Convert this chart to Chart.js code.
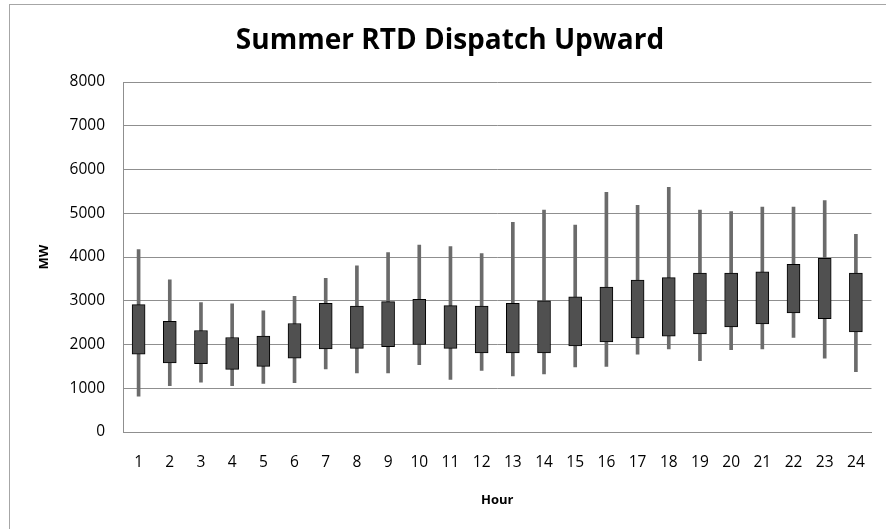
<!DOCTYPE html>
<html>
<head>
<meta charset="utf-8">
<script src="https://cdn.jsdelivr.net/npm/chart.js@4.4.1/dist/chart.umd.min.js"></script>
<style>
  html, body { margin: 0; padding: 0; background: #fff; }
  #frame { position: absolute; left: 9px; top: 4px; width: 900px; height: 600px;
           border-left: 1px solid #a6a6a6; border-top: 1px solid #a6a6a6; }
  #c { position: absolute; left: 0; top: 0; }
</style>
</head>
<body>
<div id="frame"></div>
<canvas id="c" width="886" height="529"></canvas>
<script>
const hours = ['1','2','3','4','5','6','7','8','9','10','11','12','13','14','15','16','17','18','19','20','21','22','23','24'];
const whiskerLow  = [820,1060,1140,1060,1110,1130,1440,1350,1350,1540,1200,1410,1280,1330,1490,1500,1780,1900,1630,1880,1900,2160,1690,1380];
const whiskerHigh = [4170,3480,2960,2930,2770,3100,3510,3800,4100,4270,4240,4080,4790,5070,4730,5480,5180,5590,5070,5040,5140,5140,5290,4520];
const boxLow      = [1780,1580,1560,1430,1500,1690,1900,1910,1950,2000,1910,1810,1810,1810,1970,2060,2150,2190,2240,2400,2470,2720,2590,2290];
const boxHigh     = [2910,2530,2320,2160,2190,2480,2940,2880,2980,3030,2890,2880,2940,3000,3090,3310,3470,3530,3630,3630,3660,3830,3970,3630];
const yTicks = [0,1000,2000,3000,4000,5000,6000,7000,8000];

const whiskers = hours.map((h, i) => [whiskerLow[i], whiskerHigh[i]]);
const boxes = hours.map((h, i) => [boxLow[i], boxHigh[i]]);

const tickFont = { family: "'Open Sans', sans-serif", size: 15.5 };
const gridColor = '#8f8f8f';

new Chart(document.getElementById('c'), {
  type: 'bar',
  data: {
    labels: hours,
    datasets: [
      { label: 'Range', data: whiskers, grouped: false, order: 1,
        barThickness: 3, backgroundColor: '#6b6b6b', borderWidth: 0 },
      { label: 'Box', data: boxes, grouped: false, order: 0,
        barThickness: 13, backgroundColor: '#505050', borderColor: '#000',
        borderWidth: 1, borderSkipped: false }
    ]
  },
  options: {
    responsive: false,
    animation: false,
    layout: { padding: { left: 26, right: 12, top: 0, bottom: 0 } },
    plugins: {
      legend: { display: false },
      tooltip: { enabled: false },
      title: {
        display: true,
        text: 'Summer RTD Dispatch Upward',
        color: '#000',
        font: { family: "'Open Sans', sans-serif", size: 28, weight: 'bold' },
        padding: { top: 24, bottom: 24.4 }
      }
    },
    scales: {
      x: {
        grid: { display: false, drawTicks: false },
        border: { display: true, color: gridColor },
        ticks: { color: '#000', font: tickFont, padding: 21, maxRotation: 0 },
        title: { display: true, text: 'Hour', color: '#000',
                 font: { family: "'Open Sans', sans-serif", size: 13, weight: 'bold' },
                 padding: { top: 0, bottom: 21 } },
        afterFit: (s) => { s.height = 97; }
      },
      y: {
        min: 0, max: 8000,
        afterBuildTicks: (s) => { s.ticks = yTicks.map(v => ({ value: v })); },
        grid: { color: gridColor, drawTicks: false },
        border: { display: true, color: gridColor },
        ticks: { color: '#000', font: tickFont, padding: 18, callback: (v) => String(v) },
        title: { display: true, text: 'MW', color: '#000',
                 font: { family: "'Open Sans', sans-serif", size: 13, weight: 'bold' },
                 padding: { top: 10, bottom: 0 } },
        afterFit: (s) => { s.width = 97; }
      }
    }
  }
});
</script>
</body>
</html>
